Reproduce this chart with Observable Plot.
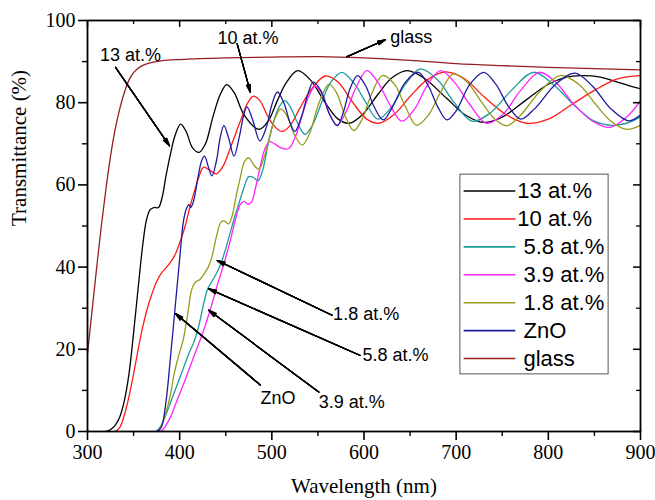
<!DOCTYPE html>
<html><head><meta charset="utf-8">
<script src="https://cdn.jsdelivr.net/npm/d3@7"></script>
<script src="https://cdn.jsdelivr.net/npm/@observablehq/plot@0.6"></script>
<style>body{margin:0;background:#fff}#chart{width:655px;height:500px}</style>
</head><body><div id="chart"></div>
<script>
// ---- data (wavelength nm, transmittance %) ----
const s13 = [[300,0],[320,0],[325,0.5],[330,1.5],[335,3.5],[340,7.5],[345,14],[350,24],[355,35],[360,45.5],[364,51.5],[368,54],[372,54.5],[377,54.5],[381,57],[385,62],[390,67.5],[395,72],[401,74.8],[407,73],[414,69],[421,67.9],[428,70],[436,76.5],[444,82],[451,84.4],[459,82.5],[470,77],[486,73.5],[496,75.5],[506,80.5],[516,85],[528,87.8],[542,85.5],[558,80],[572,76],[584,75],[598,77],[615,82],[630,86],[647,87.8],[665,86],[690,81],[710,77],[730,75.2],[750,76.5],[775,80.5],[800,84.5],[820,86.2],[835,86.6],[855,86.3],[875,85],[890,84],[900,83.4]];
const s10 = [[300,0],[330,0],[335,1],[340,4],[345,8.5],[350,14],[355,20],[360,25.5],[365,30],[370,33.5],[375,36.5],[380,38.5],[386,40],[391,41.5],[396,43.5],[401,46.5],[406,50],[411,54.5],[416,58.5],[421,62],[426,64.3],[433,63.5],[440,62.7],[447,64.5],[455,69],[466,75.6],[474,80],[480,81.6],[487,80.5],[496,76.5],[504,74],[511,73],[520,74.5],[530,78.5],[542,83],[558,86.5],[572,85],[588,80],[603,76],[616,75],[632,77],[650,81.5],[668,85.5],[688,87.5],[708,86],[730,81.5],[755,77],[777,75],[800,76],[825,79.5],[850,83],[875,85.8],[900,86.6]];
const s58 = [[300,0],[374,0],[380,1.5],[385,4],[390,7],[395,10],[400,13],[405,16],[410,19],[415,21.5],[420,25],[425,30],[430,34.5],[435,36.5],[440,38.5],[445,41],[450,44.5],[455,48.5],[460,52.5],[465,56],[470,59.5],[475,62],[480,61.8],[485,61],[490,63.5],[496,70],[502,75.5],[508,79],[514,80.5],[520,79],[528,75],[536,72.3],[544,74.5],[554,80],[564,85],[576,87.4],[590,84.5],[602,80],[615,76],[630,79],[645,84.5],[661,88.2],[680,85.5],[698,80],[717,75.5],[737,77.5],[760,83],[784,87.4],[805,84.5],[830,79],[850,75.5],[868,74.5],[885,75],[900,76.5]];
const s39 = [[300,0],[379,0],[385,1.5],[390,3.5],[397,7.5],[405,12],[415,18],[425,24],[433,29.5],[440,35],[448,40.8],[455,46.5],[461,52],[466,55.3],[470,56],[474,55.3],[478,55.8],[482,59],[487,64],[492,68.5],[497,70.5],[503,70],[510,69],[518,68.8],[526,72],[533,77],[540,81.5],[547,84],[555,82],[563,77],[571,74.5],[580,77.5],[591,83.5],[603,87.8],[615,85],[628,79.5],[641,75.5],[655,78.5],[668,84],[683,87.8],[698,85],[715,79.5],[733,75],[750,77],[770,83],[790,87.4],[808,85],[828,79.5],[848,75.5],[867,74],[885,76.5],[900,80.5]];
const s18 = [[300,0],[376,0],[380,1.5],[385,4.5],[390,9],[394,14],[399,18.5],[404,22.5],[409,29],[413,34.5],[417,36.3],[422,37],[427,38.5],[431,40],[435,42.5],[440,47.5],[445,51],[449,51.2],[453,50.5],[457,52.5],[461,57],[466,62],[470,65.5],[475,66.6],[480,65],[486,63.8],[492,67],[498,72],[504,76.5],[510,78.5],[517,76.5],[525,72],[533,69.7],[541,72.5],[549,78.5],[556,82.5],[562,84.5],[570,82.5],[580,76.5],[589,73.2],[598,76],[608,82],[620,86.6],[633,84.5],[645,79],[657,74.5],[670,77],[683,82.5],[697,87],[712,85],[728,80],[742,76],[755,74.4],[770,77],[790,82.5],[813,86.6],[833,84.5],[850,80],[868,75.5],[885,73.5],[900,74.5]];
const sZnO = [[300,0],[375,0],[380,1],[385,7],[390,18],[395,30],[400,42],[404,51],[407,54],[410,55.2],[412,54.5],[415,56],[420,62],[424,66],[427,67],[431,64.5],[435,62.2],[440,66],[444,71.5],[448,74.4],[453,71.5],[459,67],[465,72],[469,76.5],[473,79],[479,76],[487,70.7],[494,74],[500,79.5],[506,82.6],[513,80],[520,75],[525,73],[532,76.5],[539,82],[545,85],[553,83],[562,77.5],[571,74.4],[578,78],[585,83.5],[593,86.6],[602,84],[611,79],[621,75.8],[631,79],[645,85],[659,87.4],[670,84],[680,79],[690,75.8],[700,78],[715,84.5],[730,87.4],[743,84.5],[757,79],[770,76],[785,78.5],[808,84.5],[829,87.2],[848,84],[868,78.5],[887,75.6],[900,77]];
const sGlass = [[300,19],[305,29.5],[310,40],[315,50],[320,59],[325,67],[330,73.5],[335,78.5],[340,82.5],[345,85.5],[350,87.3],[355,88.4],[360,89.1],[370,89.8],[380,90.2],[400,90.5],[450,90.9],[500,91.1],[550,91.2],[600,90.9],[650,90.3],[700,89.5],[750,89],[800,88.6],[850,88.3],[900,88]];

const seriesNames = ["13 at.%","10 at.%","5.8 at.%","3.9 at.%","1.8 at.%","ZnO","glass"];
const legendLabels = ["13 at.%","10 at.%","\u00a05.8 at.%","\u00a03.9 at.%","\u00a01.8 at.%","\u00a0ZnO","\u00a0glass"];
const seriesColors = ["#000000","#ff1a1a","#1f9b9b","#ff22ff","#9a9a1e","#1c1c9c","#951f1f"];
const seriesData = [s13, s10, s58, s39, s18, sZnO, sGlass];
const drawOrder = [6,0,1,2,3,4,5];

const xTicks = [300,400,500,600,700,800,900];
const xMinor = [350,450,550,650,750,850];
const yTicks = [0,20,40,60,80,100];
const yMinor = [10,30,50,70,90];

const annotations = [
  {label:"13 at.%", tx:346.6, ty:91.6, x1:330.4, y1:88.6, x2:389, y2:69.5, anchor:"middle"},
  {label:"10 at.%", tx:474.1, ty:95.7, x1:462.4, y1:94.3, x2:476.8, y2:82.5, anchor:"middle"},
  {label:"glass",   tx:651.2, ty:95.9, x1:581.7, y1:91.2, x2:623.2, y2:95.3, anchor:"middle"},
  {label:"1.8 at.%",tx:566.5, ty:28.5, x1:565.4, y1:28.3, x2:440.7, y2:41.6, anchor:"start"},
  {label:"5.8 at.%",tx:598.3, ty:18.5, x1:596.0, y1:18.5, x2:431.6, y2:34.7, anchor:"start"},
  {label:"3.9 at.%",tx:550.9, ty:7.1,  x1:550.9, y1:9.6,  x2:431.6, y2:29.5, anchor:"start"},
  {label:"ZnO",     tx:487.6, ty:8.1,  x1:487.6, y1:11.3, x2:395.4, y2:28.7, anchor:"start"}
];

// legend placement (data units inside the frame)
const legendBox = {x1:704.6, x2:865.4, y1:13.9, y2:62.5};
const legendLine = {x1:708.1, x2:764.2, tx:766.4, top:58.5, step:6.79};

const W = 655, H = 500, mt = 20, mr = 15, mb = 69, ml = 87;
const plotW = W - ml - mr, plotH = H - mt - mb;
const sans = "Liberation Sans, Arial, sans-serif";
const serif = "Liberation Serif, Times New Roman, serif";

const legendRows = legendLabels.map((label, i) => ({label, color: seriesColors[i], y: legendLine.top - i*legendLine.step}));

const lineMarks = drawOrder.map(i => Plot.line(seriesData[i], {x: d => d[0], y: d => d[1], stroke: seriesColors[i], strokeWidth: 1.3, curve: "catmull-rom", clip: true}));

// filled-looking arrowheads: several arrow layers with growing head angles
const arrowMarks = [6, 12, 18, 24, 30].map(a => Plot.arrow(annotations, {x1: "x1", y1: "y1", x2: "x2", y2: "y2", stroke: "black", strokeWidth: 1.2, headLength: 10, headAngle: a}));

const chart = Plot.plot({
  width: W, height: H,
  marginTop: mt, marginRight: mr, marginBottom: mb, marginLeft: ml,
  x: {domain: [300, 900], axis: null},
  y: {domain: [0, 100], axis: null},
  style: {fontFamily: serif, fontSize: "19px", color: "black", background: "white"},
  marks: [
    ...lineMarks,
    Plot.rect([legendBox], {x1: "x1", x2: "x2", y1: "y1", y2: "y2", fill: "white", stroke: "#555", strokeWidth: 1}),
    Plot.link(legendRows, {x1: legendLine.x1, x2: legendLine.x2, y1: "y", y2: "y", stroke: "color", strokeWidth: 1.6}),
    Plot.text(legendRows, {x: legendLine.tx, y: "y", text: "label", textAnchor: "start", fontFamily: sans, fontSize: 22, fill: "black"}),
    ...arrowMarks,
    Plot.text(annotations.filter(d => d.anchor === "middle"), {x: "tx", y: "ty", text: "label", textAnchor: "middle", fontFamily: sans, fontSize: 18, fill: "black"}),
    Plot.text(annotations.filter(d => d.anchor === "start"), {x: "tx", y: "ty", text: "label", textAnchor: "start", fontFamily: sans, fontSize: 18, fill: "black"}),
    Plot.frame({stroke: "black", strokeWidth: 1.8}),
    Plot.axisX({ticks: xTicks, tickSize: 9, tickPadding: 4, strokeWidth: 1.6, label: null, fontSize: 20}),
    Plot.axisX({ticks: xMinor, tickSize: 5, strokeWidth: 1.4, tickFormat: () => "", label: null}),
    Plot.axisY({ticks: yTicks, tickSize: 9, tickPadding: 3, strokeWidth: 1.6, label: null, fontSize: 20}),
    Plot.axisY({ticks: yMinor, tickSize: 5, strokeWidth: 1.4, tickFormat: () => "", label: null}),
    Plot.tickX(xTicks, {x: d => d, insetBottom: plotH - 7, strokeWidth: 1.5}),
    Plot.tickX(xMinor, {x: d => d, insetBottom: plotH - 4, strokeWidth: 1.3}),
    Plot.tickY(yTicks, {y: d => d, insetLeft: plotW - 7, strokeWidth: 1.5}),
    Plot.tickY(yMinor, {y: d => d, insetLeft: plotW - 4, strokeWidth: 1.3}),
    Plot.text(["Wavelength (nm)"], {text: d => d, frameAnchor: "bottom", dy: 61, fontSize: 21, fontFamily: serif, fill: "black"}),
    Plot.text(["Transmittance (%)"], {text: d => d, frameAnchor: "left", rotate: -90, dx: -68, fontSize: 21, fontFamily: serif, fill: "black"})
  ]
});
document.getElementById("chart").appendChild(chart);
</script>
</body></html>
